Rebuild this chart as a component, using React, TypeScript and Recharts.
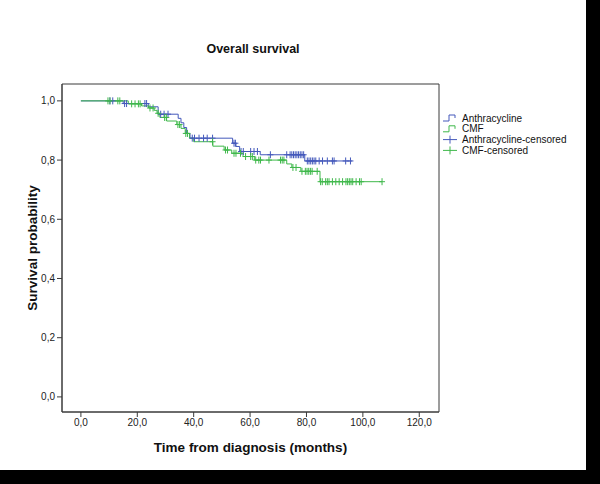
import React from 'react';
import {
  ComposedChart,
  Line,
  Scatter,
  XAxis,
  YAxis,
  ReferenceArea,
  Legend,
} from 'recharts';

// Kaplan-Meier steps: [months, survival after the step]
const anthraSteps: [number, number][] = [
  [0, 1.0], [15.0, 0.991], [23.9, 0.98], [27.4, 0.955], [34.5, 0.941],
  [35.5, 0.926], [36.5, 0.91], [37.5, 0.89], [38.7, 0.874], [53.8, 0.857],
  [55.0, 0.846], [56.3, 0.829], [63.6, 0.818], [79.4, 0.797], [96.2, 0.797],
];

const cmfSteps: [number, number][] = [
  [0, 1.0], [16.8, 0.99], [21.5, 0.983], [24.0, 0.976], [26.0, 0.968],
  [27.0, 0.958], [28.0, 0.944], [30.4, 0.932], [34.0, 0.92], [35.5, 0.907],
  [37.0, 0.89], [38.5, 0.874], [40.0, 0.862], [46.8, 0.847], [50.8, 0.834],
  [53.5, 0.823], [57.5, 0.812], [61.5, 0.8], [73.0, 0.787], [74.8, 0.775],
  [78.0, 0.762], [84.8, 0.727], [106.8, 0.727],
];

// censored observations: [months, survival]
const anthraCensored: [number, number][] = [
  [10.3, 1.0], [11.3, 1.0], [15.5, 0.991], [16.2, 0.991], [22.7, 0.991],
  [23.3, 0.991], [28.3, 0.955], [29.5, 0.955], [30.9, 0.955], [39.5, 0.874],
  [40.3, 0.874], [41.9, 0.874], [43.5, 0.874], [44.8, 0.874], [46.7, 0.874],
  [54.3, 0.857], [54.8, 0.857], [56.8, 0.829], [57.6, 0.829], [60.2, 0.829],
  [61.4, 0.829], [62.6, 0.829], [67.2, 0.818], [73.0, 0.818], [74.2, 0.818],
  [74.8, 0.818], [75.4, 0.818], [76.0, 0.818], [76.6, 0.818], [77.2, 0.818],
  [77.8, 0.818], [78.4, 0.818], [79.0, 0.818], [80.3, 0.797], [80.9, 0.797],
  [81.5, 0.797], [82.1, 0.797], [82.7, 0.797], [83.3, 0.797], [84.5, 0.797],
  [85.7, 0.797], [87.4, 0.797], [89.2, 0.797], [89.8, 0.797], [93.9, 0.797],
  [95.6, 0.797],
];

const cmfCensored: [number, number][] = [
  [9.6, 1.0], [10.3, 1.0], [13.1, 1.0], [13.8, 1.0], [18.0, 0.99],
  [19.2, 0.99], [20.4, 0.99], [21.0, 0.99], [24.5, 0.976], [25.6, 0.976],
  [27.4, 0.958], [29.7, 0.944], [30.3, 0.944], [34.4, 0.92], [35.0, 0.92],
  [37.2, 0.89], [37.8, 0.89], [46.7, 0.862], [51.3, 0.834], [52.0, 0.834],
  [54.3, 0.823], [55.0, 0.823], [56.6, 0.823], [58.4, 0.812], [60.2, 0.812],
  [60.8, 0.812], [62.0, 0.8], [63.1, 0.8], [63.7, 0.8], [66.7, 0.8],
  [70.8, 0.8], [71.4, 0.8], [72.0, 0.8], [75.2, 0.775], [76.3, 0.775],
  [78.4, 0.762], [79.6, 0.762], [80.2, 0.762], [80.8, 0.762], [81.4, 0.762],
  [82.0, 0.762], [83.8, 0.762], [85.0, 0.727], [85.6, 0.727], [86.8, 0.727],
  [87.4, 0.727], [88.0, 0.727], [89.2, 0.727], [90.4, 0.727], [91.6, 0.727],
  [92.8, 0.727], [94.0, 0.727], [94.6, 0.727], [95.2, 0.727], [95.8, 0.727],
  [96.4, 0.727], [97.6, 0.727], [98.8, 0.727], [99.4, 0.727], [106.8, 0.727],
];

const xTicks = [0, 20, 40, 60, 80, 100, 120];
const yTicks = [0, 0.2, 0.4, 0.6, 0.8, 1.0];

const BLUE = '#4459bb';
const GREEN = '#3fb84b';
const AXIS = '#3a3a3a';
const FONT = 'Arial, "Liberation Sans", sans-serif';

const X_DOMAIN = [-6.7, 127];
const Y_DOMAIN = [-0.051, 1.057];

const toRows = (pts: [number, number][]) => pts.map(([t, s]) => ({ t, s }));
const comma = (v: number) => v.toFixed(1).replace('.', ',');

const censorMark = (color: string) => (props: any) => {
  const { cx, cy } = props;
  if (cx == null || cy == null) return <g />;
  return (
    <g stroke={color} strokeWidth={1}>
      <line x1={cx} y1={cy - 3.5} x2={cx} y2={cy + 3.5} />
      <line x1={cx - 3} y1={cy} x2={cx + 3} y2={cy} />
    </g>
  );
};

const legendItems = [
  { name: 'Anthracycline', color: BLUE, kind: 'step' },
  { name: 'CMF', color: GREEN, kind: 'step' },
  { name: 'Anthracycline-censored', color: BLUE, kind: 'cross' },
  { name: 'CMF-censored', color: GREEN, kind: 'cross' },
];

const renderLegend = () => (
  <svg width={150} height={50}>
    {legendItems.map((item, i) => {
      const y = 6 + i * 10.8;
      return (
        <g key={item.name}>
          {item.kind === 'step' ? (
            <path
              d={`M1,${y + 3} H7 V${y - 3} H13 V${y}`}
              fill="none"
              stroke={item.color}
              strokeWidth={1}
            />
          ) : (
            <g stroke={item.color} strokeWidth={1}>
              <line x1={1} y1={y} x2={15} y2={y} />
              <line x1={8} y1={y - 4} x2={8} y2={y + 4} />
            </g>
          )}
          <text x={20} y={y + 3.5} fontSize={10} fontFamily={FONT} fill="#111">
            {item.name}
          </text>
        </g>
      );
    })}
  </svg>
);

export default function App() {
  return (
    <div style={{ position: 'absolute', left: 0, top: 0, width: 600, height: 484, background: '#000' }}>
      <div style={{ position: 'absolute', left: 0, top: 0, width: 586, height: 470, background: '#fff' }} />
      <div
        style={{
          position: 'absolute',
          left: 0,
          top: 42,
          width: 506,
          textAlign: 'center',
          fontFamily: FONT,
          fontWeight: 'bold',
          fontSize: 12.5,
          color: '#111',
        }}
      >
        Overall survival
      </div>
      <div style={{ position: 'absolute', left: 0, top: 0 }}>
        <ComposedChart
          width={600}
          height={484}
          margin={{ top: 84, right: 161, bottom: 44, left: 0 }}
        >
          <XAxis
            type="number"
            dataKey="t"
            domain={X_DOMAIN}
            allowDataOverflow
            ticks={xTicks}
            tickFormatter={comma}
            height={28}
            tickSize={5}
            stroke={AXIS}
            tick={{ fill: '#222', fontSize: 10, fontFamily: FONT }}
            label={{
              value: 'Time from diagnosis (months)',
              position: 'bottom',
              offset: 2,
              fill: '#111',
              fontSize: 13.5,
              fontWeight: 'bold',
              fontFamily: FONT,
            }}
          />
          <YAxis
            type="number"
            dataKey="s"
            domain={Y_DOMAIN}
            allowDataOverflow
            ticks={yTicks}
            tickFormatter={comma}
            width={62}
            tickSize={5}
            stroke={AXIS}
            tick={{ fill: '#222', fontSize: 10, fontFamily: FONT }}
            label={{
              value: 'Survival probability',
              position: 'center',
              angle: -90,
              dx: 1,
              fill: '#111',
              fontSize: 13.5,
              fontWeight: 'bold',
              fontFamily: FONT,
            }}
          />
          <ReferenceArea
            x1={X_DOMAIN[0]}
            x2={X_DOMAIN[1]}
            y1={Y_DOMAIN[0]}
            y2={Y_DOMAIN[1]}
            fill="none"
            stroke={AXIS}
            strokeWidth={1}
          />
          <Legend
            layout="vertical"
            align="center"
            verticalAlign="middle"
            wrapperStyle={{ left: 442, top: 112, width: 150, height: 50 }}
            content={renderLegend}
          />
          <Line
            data={toRows(anthraSteps)}
            dataKey="s"
            type="stepAfter"
            stroke={BLUE}
            strokeWidth={1}
            dot={false}
            isAnimationActive={false}
          />
          <Line
            data={toRows(cmfSteps)}
            dataKey="s"
            type="stepAfter"
            stroke={GREEN}
            strokeWidth={1}
            dot={false}
            isAnimationActive={false}
          />
          <Scatter
            data={toRows(anthraCensored)}
            dataKey="s"
            shape={censorMark(BLUE)}
            isAnimationActive={false}
          />
          <Scatter
            data={toRows(cmfCensored)}
            dataKey="s"
            shape={censorMark(GREEN)}
            isAnimationActive={false}
          />
        </ComposedChart>
      </div>
    </div>
  );
}
